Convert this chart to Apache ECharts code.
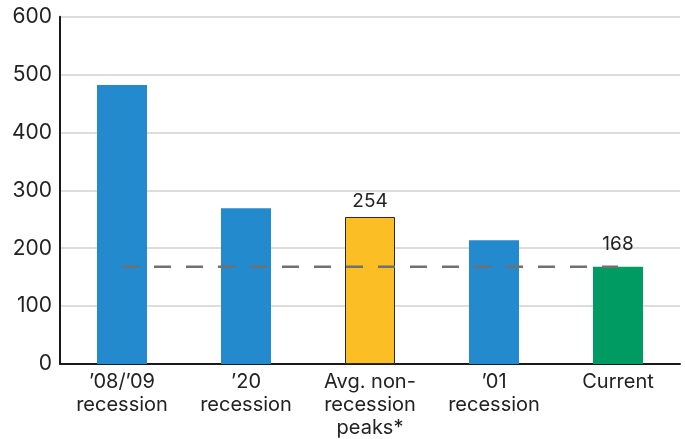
<!DOCTYPE html>
<html>
<head>
<meta charset="utf-8">
<script src="https://cdn.jsdelivr.net/npm/echarts@6/dist/echarts.min.js"></script>
<style>
  html, body { margin: 0; padding: 0; background: #fff; }
  #chart { width: 685px; height: 439px; }
</style>
</head>
<body>
<div id="chart"></div>
<script>
const categories = ["'08/'09\nrecession", "'20\nrecession", "Avg. non-\nrecession\npeaks*", "'01\nrecession", "Current"];
const values = [482, 269, 254, 214, 168];
const barColors = ['#238BCD', '#238BCD', '#FBBE24', '#238BCD', '#009A63'];
const labelled = [false, false, true, false, true];
const currentLevel = 168;
const yTicks = [0, 100, 200, 300, 400, 500, 600];

const FONT = 'Inter, "Noto Sans", sans-serif';

const chart = echarts.init(document.getElementById('chart'), null, { renderer: 'canvas' });

chart.setOption({
  animation: false,
  grid: { left: 60, right: 5, top: 16.7, bottom: 74, containLabel: false },
  xAxis: {
    type: 'category',
    data: categories.map(c => c.replace(/'/g, '\u2019')),
    axisLine: { lineStyle: { color: '#1a1a1a', width: 2 } },
    axisTick: { show: false },
    axisLabel: { color: '#222', fontSize: 20, fontFamily: FONT, lineHeight: 23, margin: 6, interval: 0 }
  },
  yAxis: {
    type: 'value',
    min: yTicks[0],
    max: yTicks[yTicks.length - 1],
    interval: 100,
    axisLine: { show: true, lineStyle: { color: '#1a1a1a', width: 2 } },
    axisTick: { show: false },
    splitLine: { lineStyle: { color: '#d0d0d0', width: 1.5 } },
    axisLabel: { color: '#222', fontSize: 21, fontFamily: FONT, margin: 8 }
  },
  series: [
    {
      type: 'bar',
      barWidth: 50,
      data: values.map((v, i) => ({
        value: v,
        itemStyle: {
          color: barColors[i],
          borderColor: i === 2 ? '#2a2a2a' : barColors[i],
          borderWidth: i === 2 ? 1 : 0
        },
        label: {
          show: labelled[i],
          position: 'top',
          distance: i === 4 ? 13 : 6,
          color: '#222',
          fontSize: 19,
          fontFamily: FONT
        }
      })),
      z: 2
    },
    {
      type: 'line',
      data: categories.map(() => currentLevel),
      symbol: 'none',
      lineStyle: { color: '#707070', width: 2.5, type: [17, 15] },
      z: 3,
      silent: true
    }
  ]
});
</script>
</body>
</html>
